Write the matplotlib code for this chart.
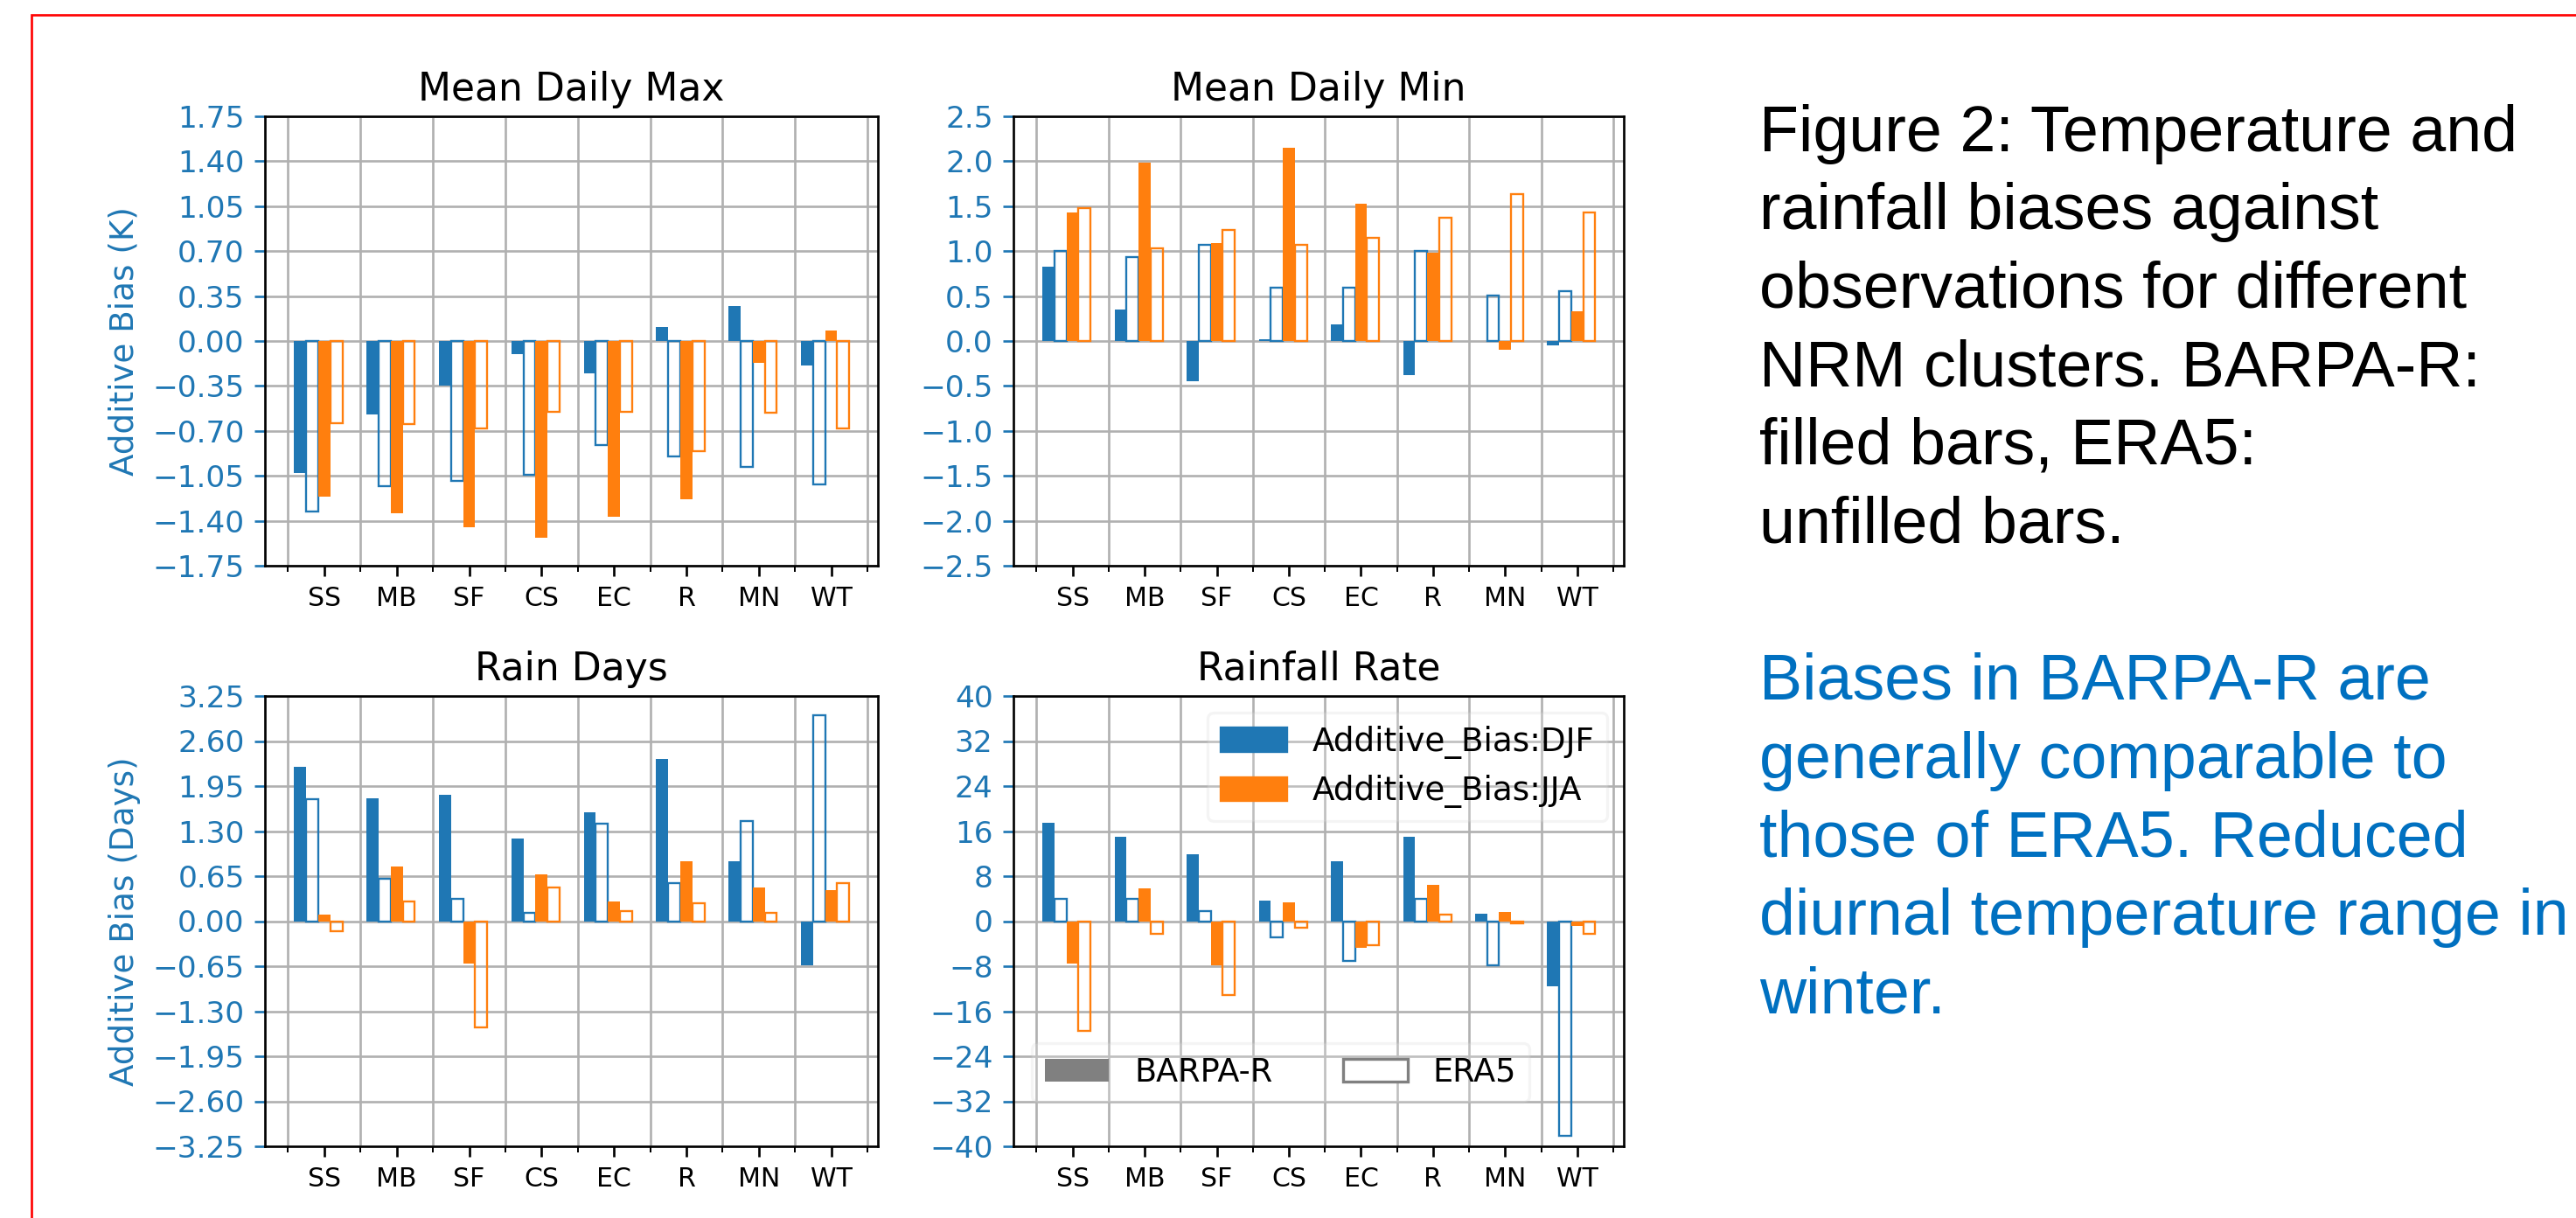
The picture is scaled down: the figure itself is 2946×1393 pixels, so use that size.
import numpy as np
import matplotlib.pyplot as plt
from matplotlib.patches import Patch, Rectangle

clusters = ['SS', 'MB', 'SF', 'CS', 'EC', 'R', 'MN', 'WT']

# Mean Daily Max (K)
tmax_barpa_djf = [-1.03, -0.57, -0.35, -0.10, -0.25, 0.11, 0.27, -0.19]
tmax_era5_djf = [-1.33, -1.13, -1.09, -1.04, -0.81, -0.90, -0.98, -1.12]
tmax_barpa_jja = [-1.21, -1.34, -1.45, -1.53, -1.37, -1.23, -0.17, 0.08]
tmax_era5_jja = [-0.64, -0.65, -0.68, -0.55, -0.55, -0.86, -0.56, -0.68]

# Mean Daily Min (K)
tmin_barpa_djf = [0.83, 0.35, -0.45, 0.02, 0.18, -0.38, 0.0, -0.05]
tmin_era5_djf = [1.00, 0.93, 1.07, 0.59, 0.59, 1.00, 0.51, 0.55]
tmin_barpa_jja = [1.43, 1.98, 1.09, 2.15, 1.53, 0.98, -0.10, 0.33]
tmin_era5_jja = [1.48, 1.03, 1.24, 1.07, 1.15, 1.37, 1.63, 1.43]

# Rain Days
rd_barpa_djf = [2.23, 1.77, 1.83, 1.19, 1.57, 2.34, 0.87, -0.64]
rd_era5_djf = [1.76, 0.61, 0.32, 0.12, 1.41, 0.55, 1.44, 2.97]
rd_barpa_jja = [0.09, 0.79, -0.61, 0.67, 0.28, 0.87, 0.49, 0.45]
rd_era5_jja = [-0.15, 0.29, -1.53, 0.49, 0.15, 0.26, 0.12, 0.55]

# Rainfall Rate
rr_barpa_djf = [17.5, 15.0, 11.9, 3.7, 10.7, 15.0, 1.3, -11.5]
rr_era5_djf = [4.0, 4.0, 1.8, -2.8, -7.1, 4.0, -7.9, -38.2]
rr_barpa_jja = [-7.6, 5.8, -7.9, 3.4, -4.7, 6.5, 1.6, -0.8]
rr_era5_jja = [-19.5, -2.2, -13.1, -1.1, -4.3, 1.1, -0.4, -2.2]

caption_lines = ['Figure 2: Temperature and', 'rainfall biases against',
                 'observations for different', 'NRM clusters. BARPA-R:',
                 'filled bars, ERA5:', 'unfilled bars.']
comment_lines = ['Biases in BARPA-R are', 'generally comparable to',
                 'those of ERA5. Reduced', 'diurnal temperature range in',
                 'winter.']

panels = [
    ('Mean Daily Max', 'Additive Bias (K)', 1.75,
     [tmax_barpa_djf, tmax_era5_djf, tmax_barpa_jja, tmax_era5_jja]),
    ('Mean Daily Min', None, 2.5,
     [tmin_barpa_djf, tmin_era5_djf, tmin_barpa_jja, tmin_era5_jja]),
    ('Rain Days', 'Additive Bias (Days)', 3.25,
     [rd_barpa_djf, rd_era5_djf, rd_barpa_jja, rd_era5_jja]),
    ('Rainfall Rate', None, 40,
     [rr_barpa_djf, rr_era5_djf, rr_barpa_jja, rr_era5_jja]),
]

W, H = 2946, 1393
dpi = 240
plt.rcParams['font.size'] = 10.6
fig = plt.figure(figsize=(W / dpi, H / dpi), dpi=dpi)

# axes boxes in pixels: left, right, top, bottom
boxes = [(303, 1004, 133, 647), (1159, 1857, 133, 647),
         (303, 1004, 796, 1311), (1159, 1857, 796, 1311)]

blue = '#1f77b4'
orange = '#ff7f0e'
x = np.arange(len(clusters))
w = 1 / 6
offsets = [-2 * w, -w, 0, w]
cols = [blue, blue, orange, orange]
filled = [True, False, True, False]

axes = []
for (title, ylabel, lim, series), (l, r, t, b) in zip(panels, boxes):
    ax = fig.add_axes([l / W, 1 - b / H, (r - l) / W, (b - t) / H])
    for vals, off, c, f in zip(series, offsets, cols, filled):
        if f:
            ax.bar(x + off, vals, width=w, color=c)
        else:
            ax.bar(x + off, vals, width=w, fill=False, edgecolor=c, linewidth=0.7)
    ax.set_title(title, fontsize=13.2, pad=5.5)
    ax.set_ylim(-lim, lim)
    ax.set_yticks(np.linspace(-lim, lim, 11))
    ax.set_xlim(-0.82, 7.645)
    ax.set_xticks(x)
    ax.set_xticklabels(clusters)
    ax.set_xticks(np.arange(len(clusters) + 1) - 0.5, minor=True)
    ax.set_axisbelow(True)
    ax.grid(axis='y', which='major')
    ax.grid(axis='x', which='minor')
    ax.tick_params(axis='y', colors=blue, labelsize=10.3)
    ax.tick_params(axis='x', which='major', labelsize=9.0)
    if ylabel:
        ax.set_ylabel(ylabel, color=blue, fontsize=11.2)
    axes.append(ax)

ax = axes[3]
leg1 = ax.legend(handles=[Patch(color=blue), Patch(color=orange)],
                 labels=['Additive_Bias:DJF', 'Additive_Bias:JJA'],
                 loc='upper right', framealpha=0.2, fontsize=11.2)
ax.add_artist(leg1)
ax.legend(handles=[Patch(facecolor='gray'), Patch(facecolor='white', edgecolor='gray')],
          labels=['BARPA-R', 'ERA5'], ncol=2, loc='lower left',
          bbox_to_anchor=(0.03, 0.1), borderaxespad=0, framealpha=0.2,
          fontsize=11, columnspacing=2.2)

# caption text on the right
tx = 2012 / W
for i, line in enumerate(caption_lines):
    fig.text(tx, 1 - (173 + i * 89.4) / H, line, fontsize=22.1,
             family='Liberation Sans', va='baseline', color='black')
for i, line in enumerate(comment_lines):
    fig.text(tx, 1 - (800 + i * 89.7) / H, line, fontsize=22.1,
             family='Liberation Sans', va='baseline', color='#0070C0')

# red frame
fig.add_artist(Rectangle((36 / W, -0.05), 1.1, 1 - 17 / H + 0.05,
                         transform=fig.transFigure, fill=False,
                         edgecolor='red', linewidth=0.8, clip_on=False))

fig.savefig('out.png', dpi=dpi)
